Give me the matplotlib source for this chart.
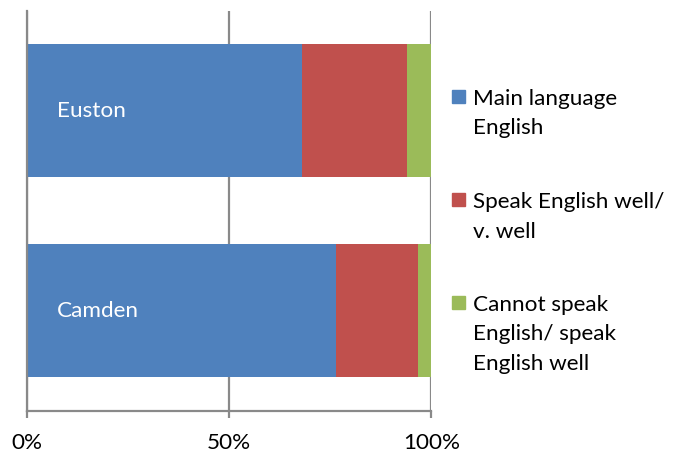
import matplotlib
matplotlib.use("Agg")
import matplotlib.pyplot as plt
from matplotlib.patches import Rectangle

# share of residents by English proficiency, per area (percent)
areas = ["Camden", "Euston"]
main_english = [76.4, 67.9]
speak_well = [20.3, 26.0]
cannot_speak = [3.3, 6.1]

series_names = [
    "Main language\nEnglish",
    "Speak English well/\nv. well",
    "Cannot speak\nEnglish/ speak\nEnglish well",
]
colors = ["#4F81BD", "#C0504D", "#9BBB59"]
tick_vals = [0, 50, 100]
tick_labels = ["0%", "50%", "100%"]

W, H = 678, 458
plt.rcParams["font.family"] = ["Lato", "DejaVu Sans"]
FS = 16.2
GRID = "#898989"

fig = plt.figure(figsize=(W / 100, H / 100), dpi=100)


def fx(px):
    return px / W


def fy(py):
    return 1 - py / H


# plot area spans x 27..431 px, y 10.5..411 px
ax = fig.add_axes([fx(27.3), fy(411), fx(431.3) - fx(27.3), fy(10.5) - fy(411)])

ypos = list(range(len(areas)))
left = [0] * len(areas)
for vals, col in zip([main_english, speak_well, cannot_speak], colors):
    ax.barh(ypos, vals, left=left, height=0.665, color=col, edgecolor="none", zorder=2)
    left = [a + b for a, b in zip(left, vals)]

# category names written inside the blue segment
for y, name in zip(ypos, areas):
    ax.text(7.4, y, name, color="white", fontsize=FS, va="center", ha="left", zorder=3)

ax.set_xlim(0, 100)
ax.set_ylim(-0.5, len(areas) - 0.5)
ax.set_xticks(tick_vals)
ax.set_xticklabels(tick_labels, fontsize=FS)
ax.set_yticks([])
ax.xaxis.grid(True, color=GRID, linewidth=1.6, zorder=1)
ax.tick_params(axis="x", direction="out", length=5, width=1.6, color=GRID, pad=11)
for side in ["top", "right"]:
    ax.spines[side].set_visible(False)
for side in ["bottom", "left"]:
    ax.spines[side].set_color(GRID)
    ax.spines[side].set_linewidth(1.6)

# legend drawn by hand so each swatch sits level with the first text line
first_base = [105, 208, 311]
line_gap = 29.5
for name, col, base in zip(series_names, colors, first_base):
    fig.patches.append(Rectangle((fx(452), fy(base - 2)), fx(13), fx(13) * W / H,
                                 transform=fig.transFigure, color=col))
    for i, line in enumerate(name.split("\n")):
        fig.text(fx(473), fy(base + i * line_gap), line, fontsize=FS,
                 va="baseline", ha="left", color="black")

fig.savefig("out.png", dpi=100)
